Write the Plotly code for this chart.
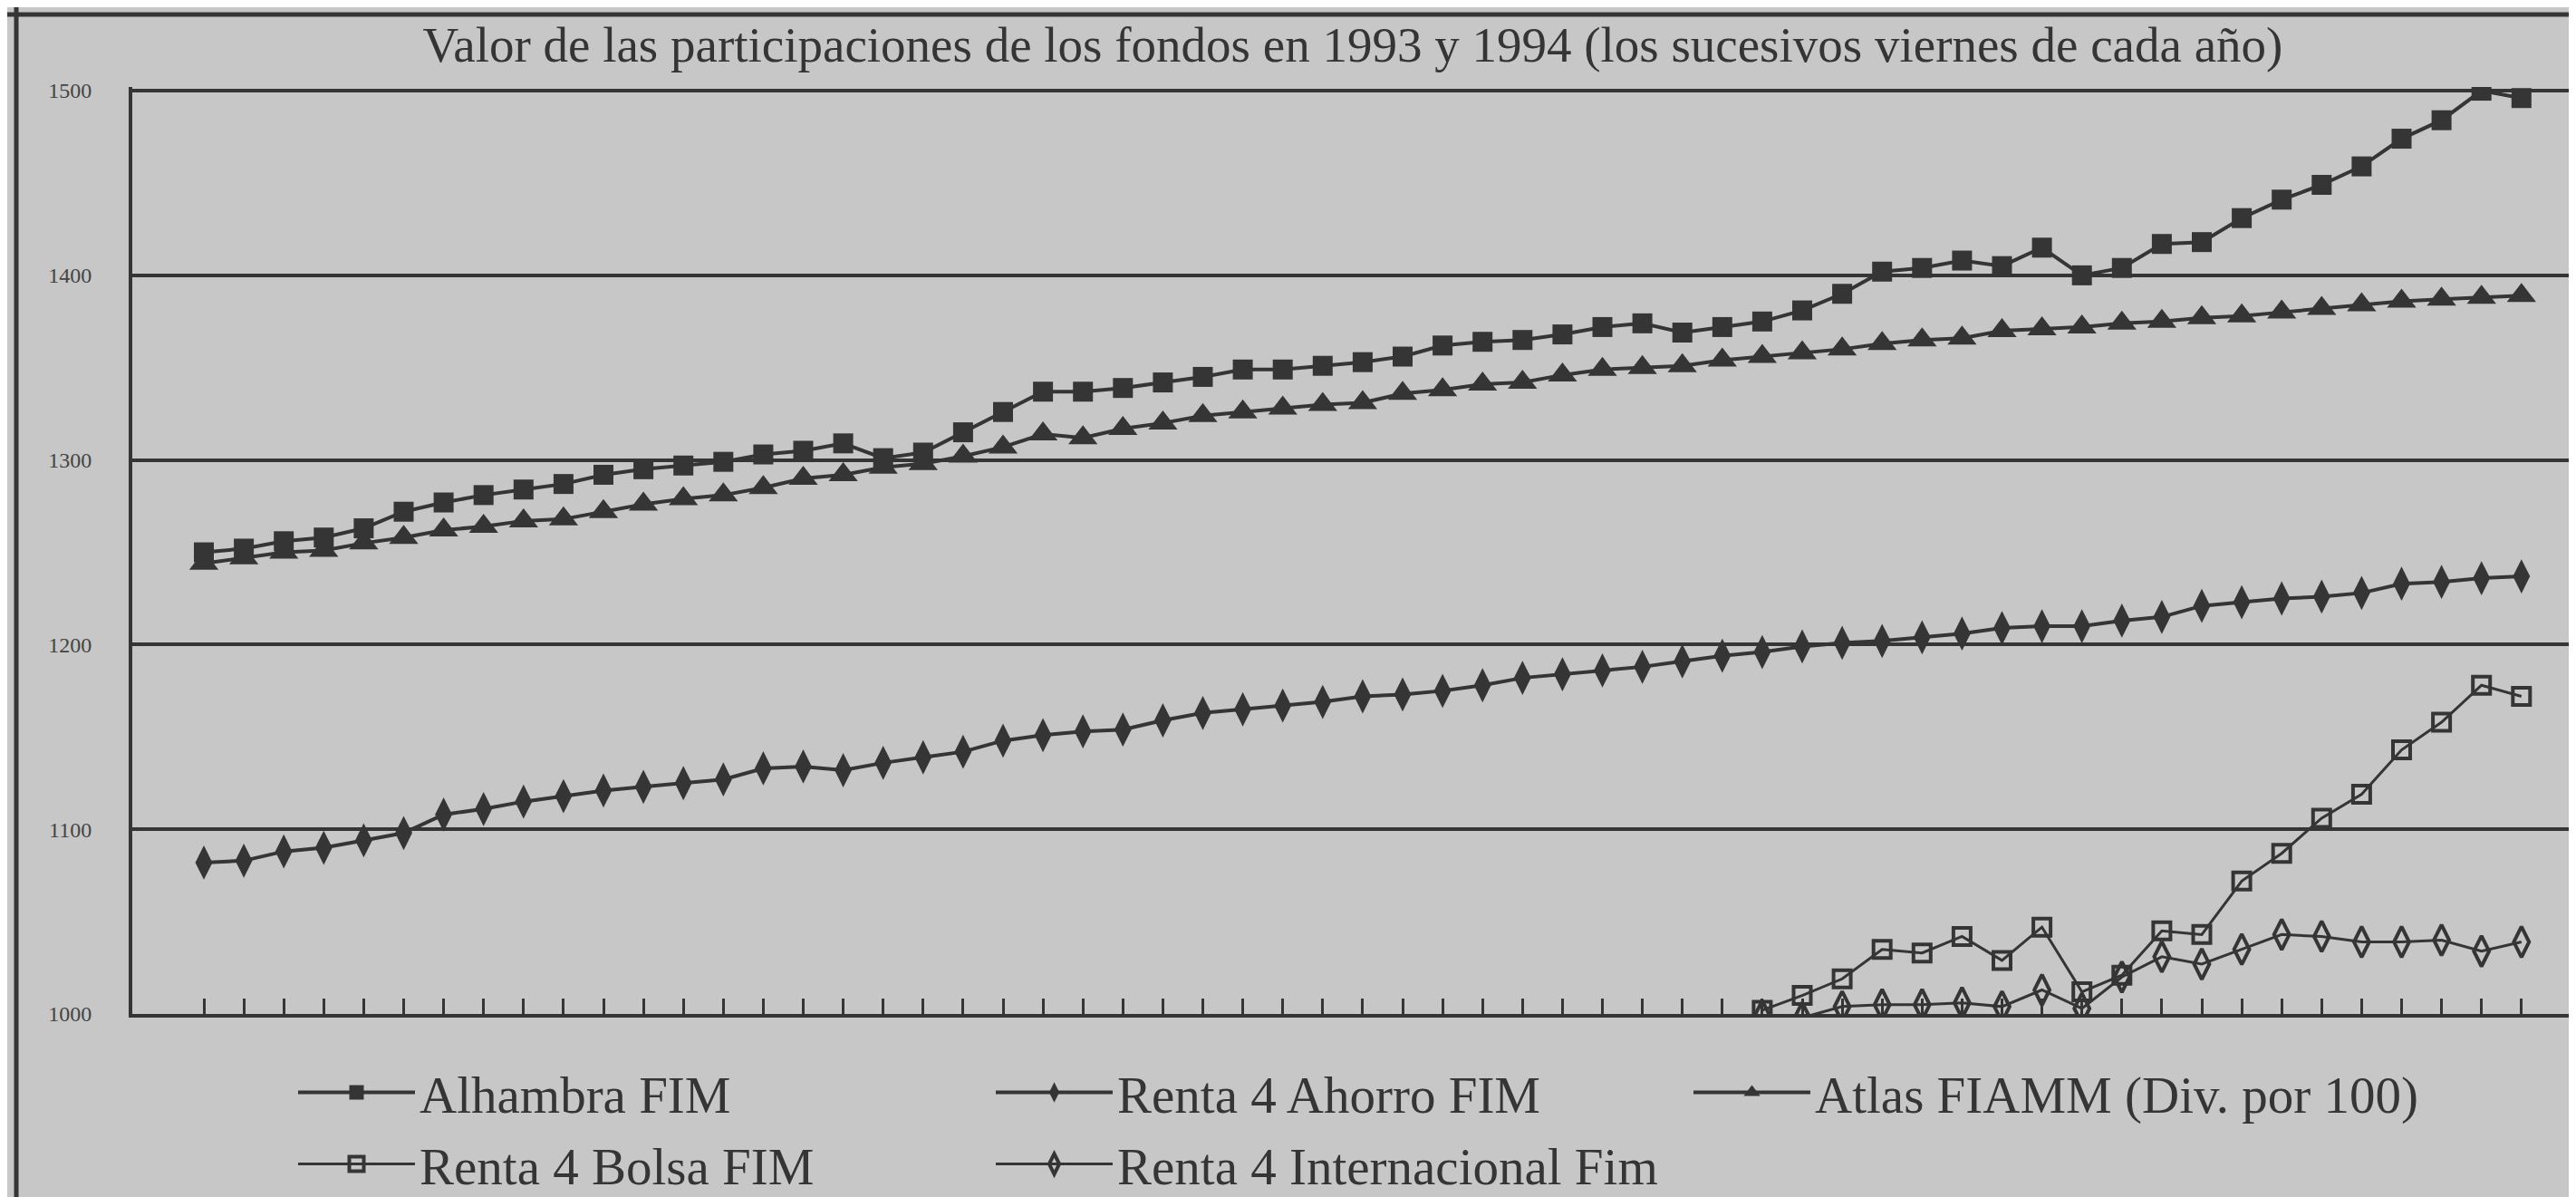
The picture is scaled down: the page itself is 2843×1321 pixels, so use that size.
import plotly.graph_objects as go

# ---- data (one point per Friday) ----
semanas = list(range(59))                  # weekly Fridays, 1993 -> early 1994
semanas_nuevos = semanas[39:]              # the two newer Renta 4 funds start later

alhambra = [1250, 1252, 1256, 1258, 1263, 1272, 1277, 1281, 1284, 1287,
            1292, 1295, 1297, 1299, 1303, 1305, 1309, 1301, 1304, 1315,
            1326, 1337, 1337, 1339, 1342, 1345, 1349, 1349, 1351, 1353,
            1356, 1362, 1364, 1365, 1368, 1372, 1374, 1369, 1372, 1375,
            1381, 1390, 1402, 1404, 1408, 1405, 1415, 1400, 1404, 1417,
            1418, 1431, 1441, 1449, 1459, 1474, 1484, 1500, 1496]

atlas_div100 = [1244, 1247, 1250, 1251, 1255, 1258, 1262, 1264, 1267, 1268,
                1272, 1276, 1279, 1281, 1285, 1290, 1292, 1296, 1298, 1302,
                1307, 1314, 1312, 1317, 1320, 1324, 1326, 1328, 1330, 1331,
                1336, 1338, 1341, 1342, 1346, 1349, 1350, 1351, 1354, 1356,
                1358, 1360, 1363, 1365, 1366, 1370, 1371, 1372, 1374, 1375,
                1377, 1378, 1380, 1382, 1384, 1386, 1387, 1388, 1389]

renta4_ahorro = [1082, 1083, 1088, 1090, 1094, 1098, 1108, 1111, 1115, 1118,
                 1121, 1123, 1125, 1127, 1133, 1134, 1132, 1136, 1139, 1142,
                 1148, 1151, 1153, 1154, 1159, 1163, 1165, 1167, 1169, 1172,
                 1173, 1175, 1178, 1182, 1184, 1186, 1188, 1191, 1194, 1196,
                 1199, 1201, 1202, 1204, 1206, 1209, 1210, 1210, 1213, 1215,
                 1221, 1223, 1225, 1226, 1228, 1233, 1234, 1236, 1237]

renta4_bolsa = [1002, 1010, 1019, 1035, 1033, 1042, 1029, 1047, 1012, 1021,
                1045, 1043, 1072, 1087, 1106, 1119, 1143, 1158, 1178, 1172]

renta4_internacional = [999, 998, 1004, 1005, 1005, 1006, 1004, 1013, 1003, 1020,
                        1031, 1027, 1035, 1043, 1042, 1039, 1039, 1040, 1034, 1039]

y_ticks = [1000, 1100, 1200, 1300, 1400, 1500]
y_tick_labels = ["1000", "1100", "1200", "1300", "1400", "1500"]

titulo = ("Valor de las participaciones de los fondos en 1993 y 1994 "
          "(los sucesivos viernes de cada año)")

# ---- styling ----
PAPER = "#c7c7c7"
INK = "#353535"
SERIF = "Liberation Serif, Times New Roman, serif"

fig = go.Figure()


def add_series(x, y, name, symbol, size, legend, open_marker=False, lw=4,
               legendwidth=None):
    marker = dict(symbol=symbol, size=size, color=INK)
    if open_marker:
        marker["line"] = dict(color=INK, width=4)
    fig.add_trace(go.Scatter(
        x=x, y=y, name=name, mode="lines+markers",
        line=dict(color=INK, width=lw), marker=marker, legend=legend,
        legendwidth=legendwidth,
    ))


add_series(semanas, alhambra, "Alhambra FIM", "square", 22, "legend")
add_series(semanas, renta4_ahorro, "Renta 4 Ahorro FIM", "diamond-tall", 27, "legend")
add_series(semanas, atlas_div100, "Atlas FIAMM (Div. por 100)", "triangle-up", 28,
           "legend", legendwidth=740)
add_series(semanas_nuevos, renta4_bolsa, "Renta 4 Bolsa FIM", "square-open", 19,
           "legend2", open_marker=True, lw=3)
add_series(semanas_nuevos, renta4_internacional, "Renta 4 Internacional Fim",
           "diamond-tall-open", 24, "legend2", open_marker=True, lw=3)

W, H = 2843, 1321
L, R, T, B = 138, 0, 88, 209
plot_w = W - L - R
plot_h = H - T - B
px_per_week = 44.1
x0 = -(217 - L) / px_per_week
x_range = [x0, x0 + plot_w / px_per_week]


def py(pix):  # page pixel row -> paper y
    return (H - B - pix) / plot_h


def px(pix):  # page pixel column -> paper x
    return (pix - L) / plot_w


legend_common = dict(
    orientation="h", xanchor="left", yanchor="top",
    x=px(316), entrywidth=626, entrywidthmode="pixels", itemwidth=129,
    font=dict(family=SERIF, size=57, color=INK),
    bgcolor="rgba(0,0,0,0)", borderwidth=0,
)

fig.update_layout(
    width=W, height=H,
    margin=dict(l=L, r=R, t=T, b=B, pad=0),
    paper_bgcolor=PAPER, plot_bgcolor=PAPER,
    title=dict(text=titulo, x=1485 / W, xanchor="center", xref="container",
               y=1 - 41 / H, yanchor="middle", yref="container",
               font=dict(family=SERIF, size=55, color=INK)),
    legend=dict(legend_common, y=py(1154)),
    legend2=dict(legend_common, y=py(1234)),
    xaxis=dict(range=x_range, showgrid=False, zeroline=False,
               showline=True, linecolor=INK, linewidth=4,
               tickmode="array", tickvals=semanas, ticks="inside",
               ticklen=17, tickwidth=3, tickcolor=INK, showticklabels=False),
    yaxis=dict(range=[1000, 1502], tickmode="array", tickvals=y_ticks,
               ticktext=y_tick_labels, showgrid=True, gridcolor=INK, gridwidth=4,
               zeroline=False, showline=True, linecolor=INK, linewidth=4,
               ticks="", ticklabelstandoff=36,
               tickfont=dict(family=SERIF, size=24, color="#444444")),
    showlegend=True,
)

# page rules of the newspaper frame (top rule and left rule)
fig.add_shape(type="line", xref="paper", yref="paper",
              x0=px(0), x1=px(W), y0=py(8), y1=py(8),
              line=dict(color=INK, width=5))
fig.add_shape(type="line", xref="paper", yref="paper",
              x0=px(10), x1=px(10), y0=py(0), y1=py(H),
              line=dict(color=INK, width=5))

fig.write_html("out.html")
